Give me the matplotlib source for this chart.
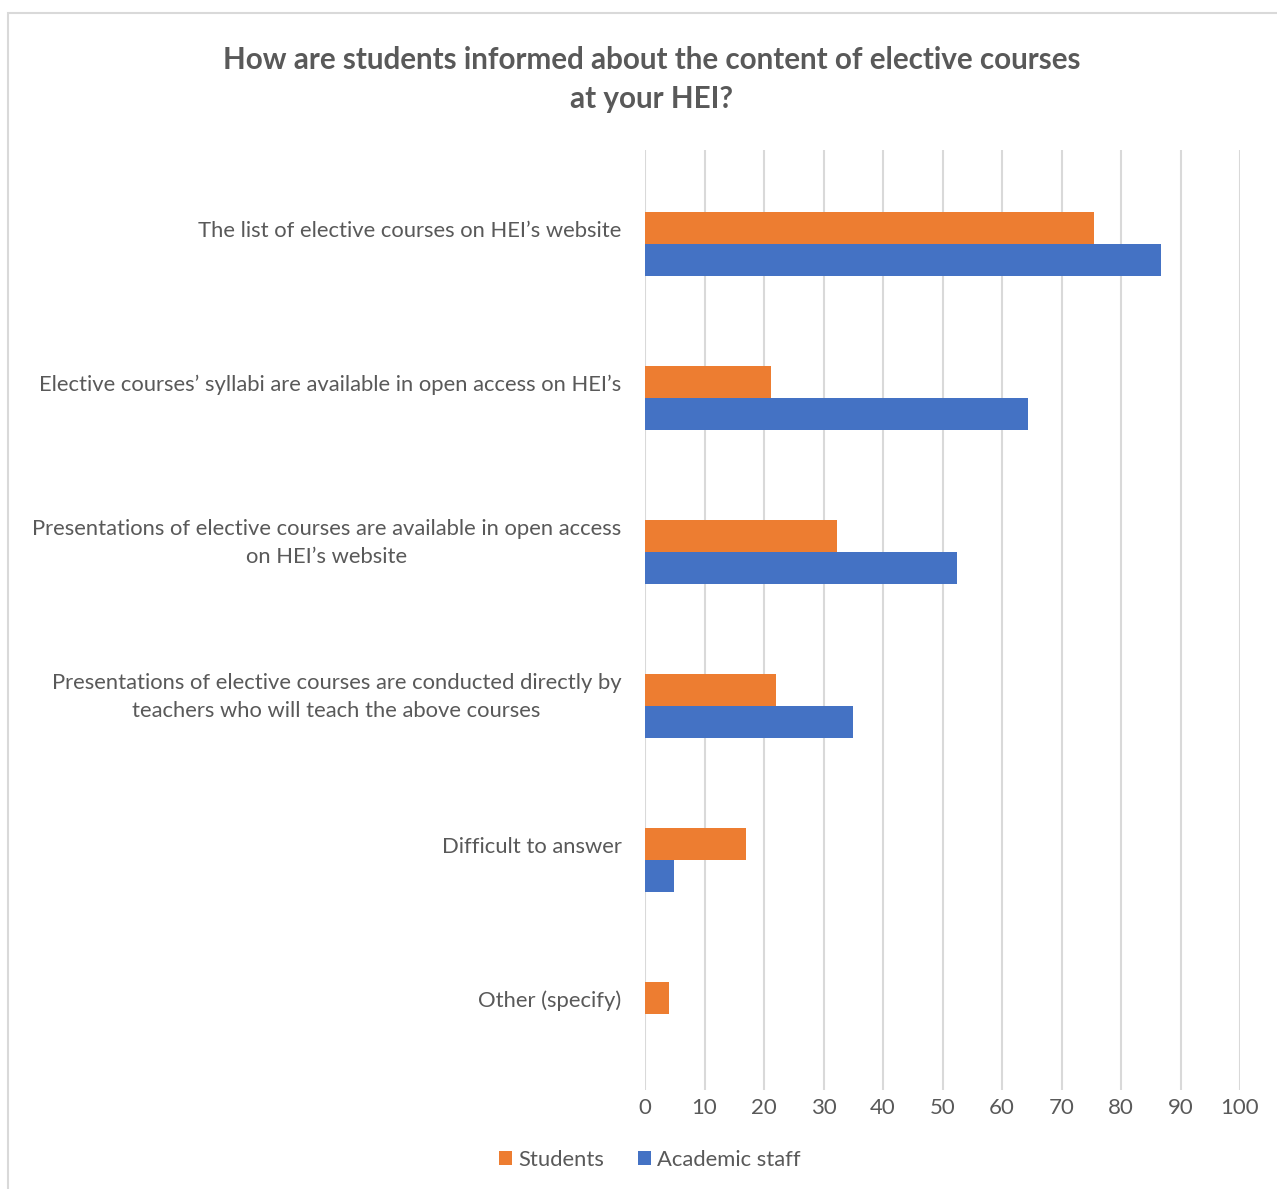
import matplotlib.pyplot as plt
import numpy as np
from matplotlib.patches import Rectangle

# Données (en %)
categories = [
    "The list of elective courses on HEI\u2019s website",
    "Elective courses\u2019 syllabi are available in open access on HEI\u2019s",
    "Presentations of elective courses are available in open access\non HEI\u2019s website",
    "Presentations of elective courses are conducted directly by\nteachers who will teach the above courses",
    "Difficult to answer",
    "Other (specify)",
]
students = [75.5, 21.2, 32.2, 22.0, 16.9, 4.1]
academic_staff = [86.8, 64.3, 52.5, 35.0, 4.9, 0.0]
x_ticks = list(range(0, 101, 10))

ORANGE = "#ED7D31"
BLUE = "#4472C4"
TXT = "#595959"
GRID = "#D9D9D9"

plt.rcParams['font.family'] = ['Lato', 'DejaVu Sans']

W, H = 1277, 1189
fig = plt.figure(figsize=(W / 100, H / 100), dpi=100)

# cadre du graphique (bord gris clair)
fig.patches.append(Rectangle((8 / W, -0.1), 1.2, 1 - 13 / H + 0.1, transform=fig.transFigure,
                             fill=False, edgecolor=GRID, linewidth=1.5))

ax = fig.add_axes([645 / W, 1 - 1090 / H, 595 / W, 940 / H])

y = np.arange(len(categories))
h = 0.208
ax.barh(y - h / 2, students, height=h, color=ORANGE, label="Students")
ax.barh(y + h / 2, academic_staff, height=h, color=BLUE, label="Academic staff")

ax.set_xlim(0, 100)
ax.set_ylim(5.49, -0.61)
ax.set_xticks(x_ticks)
# les étiquettes sont un peu au-dessus du centre de chaque catégorie
ax.set_yticks(y - 0.1)
ax.set_yticklabels(categories, multialignment='center', linespacing=1.52)
ax.tick_params(axis='y', length=0, pad=17, labelsize=15.8, labelcolor=TXT)
ax.tick_params(axis='x', length=0, pad=6, labelsize=16, labelcolor=TXT)

ax.grid(axis='x', color=GRID, linewidth=1.5)
ax.set_axisbelow(True)
for s in ax.spines.values():
    s.set_visible(False)

fig.text(652 / W, 1 - 79.5 / H, "How are students informed about the content of elective courses\nat your HEI?",
         ha='center', va='center', fontsize=21.3, fontweight='bold', color=TXT, linespacing=1.46)

fig.legend(loc='center', bbox_to_anchor=(650 / W, 1 - 1160 / H), ncol=2, frameon=False,
           fontsize=15.8, labelcolor=TXT, handlelength=0.6, handleheight=0.6,
           handletextpad=0.3, columnspacing=1.5)

fig.savefig("out.png", dpi=100)
